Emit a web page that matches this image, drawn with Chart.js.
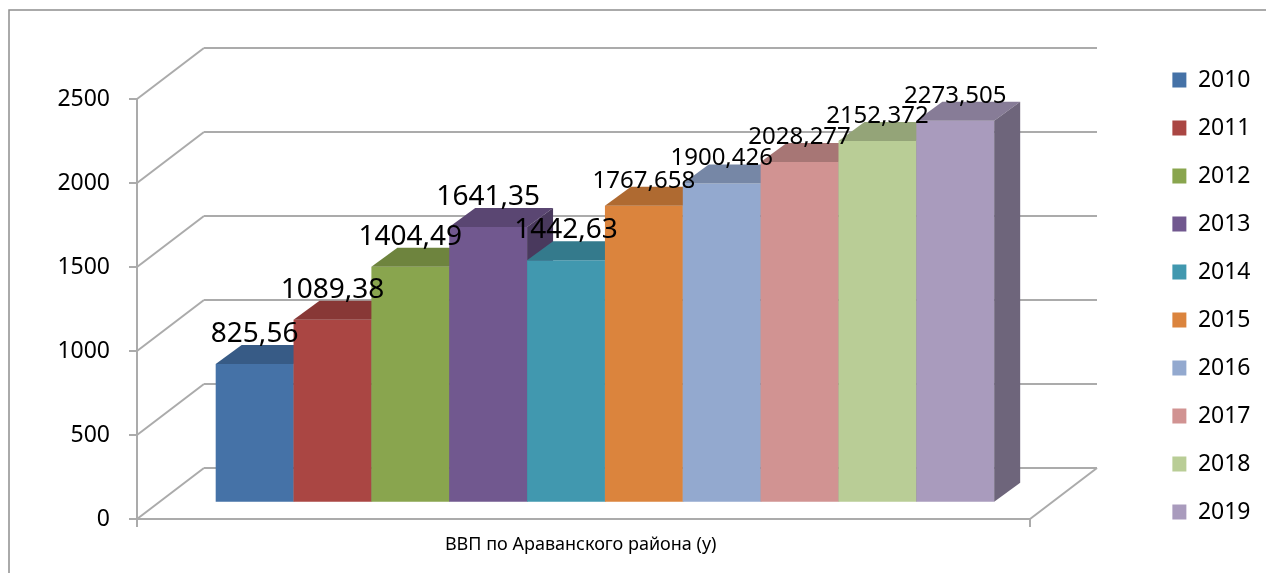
<!DOCTYPE html>
<html>
<head>
<meta charset="utf-8">
<script src="https://cdn.jsdelivr.net/npm/chart.js@4.4.1/dist/chart.umd.min.js"></script>
<style>
body { margin: 0; background: #fff; }
#wrap { width: 1266px; height: 573px; }
</style>
</head>
<body>
<div id="wrap"><canvas id="myChart"></canvas></div>
<script>
const years = ['2010', '2011', '2012', '2013', '2014', '2015', '2016', '2017', '2018', '2019'];
const values = [825.56, 1089.38, 1404.49, 1641.35, 1442.63, 1767.658, 1900.426, 2028.277, 2152.372, 2273.505];
const category = ['ВВП по Араванского района (у)'];
const yTicks = [0, 500, 1000, 1500, 2000, 2500];
const colors = ['#4572a7', '#aa4643', '#89a54e', '#71588f', '#4198af', '#db843d', '#93a9cf', '#d19392', '#b9cd96', '#a99bbd'];

// 3d look
const DEPTH = {x: 67, y: -51};     // depth of the whole box (left wall / floor)
const BAR_FRONT = 0.32;            // bars stand this far into the box
const BAR_D = {x: 26, y: -19};     // depth of a bar
const BOX_W = 893;                 // width of the floor, from the y axis
const gridColor = '#ababab';
const font = "'Noto Sans', sans-serif";

function shade(hex, k) {
    let r = parseInt(hex.substr(1, 2), 16), g = parseInt(hex.substr(3, 2), 16), b = parseInt(hex.substr(5, 2), 16);
    return 'rgb(' + Math.round(r * k) + ',' + Math.round(g * k) + ',' + Math.round(b * k) + ')';
}

function line(ctx, x1, y1, x2, y2) {
    ctx.beginPath();
    ctx.moveTo(x1, y1);
    ctx.lineTo(x2, y2);
    ctx.stroke();
}

function barShift(chart) {
    const a = chart.chartArea;
    return {
        x: a.left + BOX_W / 2 + DEPTH.x * BAR_FRONT - (a.left + a.right) / 2,
        y: DEPTH.y * BAR_FRONT
    };
}

const box3d = {
    id: 'box3d',
    beforeDraw(chart) {
        const ctx = chart.ctx;
        ctx.save();
        ctx.fillStyle = '#fff';
        ctx.fillRect(0, 0, chart.width, chart.height);
        ctx.strokeStyle = '#8e8e8e';
        ctx.lineWidth = 1.5;
        ctx.strokeRect(9, 10, chart.width + 20, chart.height + 20);
        ctx.restore();
    },
    beforeDatasetsDraw(chart) {
        const ctx = chart.ctx;
        const ys = chart.scales.y;
        const a = chart.chartArea;
        const x0 = a.left, x1 = a.left + BOX_W;
        ctx.save();
        ctx.strokeStyle = gridColor;
        ctx.lineWidth = 2;
        yTicks.forEach(v => {
            const y = ys.getPixelForValue(v);
            line(ctx, x0, y, x0 + DEPTH.x, y + DEPTH.y);
            line(ctx, x0 + DEPTH.x, y + DEPTH.y, x1 + DEPTH.x, y + DEPTH.y);
        });
        const y0 = ys.getPixelForValue(0);
        line(ctx, x0, y0, x1, y0);
        line(ctx, x1, y0, x1 + DEPTH.x, y0 + DEPTH.y);
        line(ctx, x0, y0, x0, y0 + 8);
        line(ctx, x1, y0, x1, y0 + 8);
        ctx.restore();
    },
    beforeDatasetDraw() {
        // bars are drawn below, left to right, so the 3d faces overlap right
        return false;
    },
    afterDatasetsDraw(chart) {
        const ctx = chart.ctx;
        const s = barShift(chart);
        ctx.save();
        ctx.translate(s.x, s.y);
        for (let i = 0; i < years.length; i++) {
            const el = chart.getDatasetMeta(i).data[0];
            const l = el.x - el.width / 2, r = el.x + el.width / 2;
            const t = el.y, b = el.base;
            el.draw(ctx);
            // top
            ctx.fillStyle = shade(colors[i], 0.8);
            ctx.beginPath();
            ctx.moveTo(l, t); ctx.lineTo(r, t);
            ctx.lineTo(r + BAR_D.x, t + BAR_D.y); ctx.lineTo(l + BAR_D.x, t + BAR_D.y);
            ctx.closePath(); ctx.fill();
            // side
            ctx.fillStyle = shade(colors[i], 0.65);
            ctx.beginPath();
            ctx.moveTo(r, t); ctx.lineTo(r + BAR_D.x, t + BAR_D.y);
            ctx.lineTo(r + BAR_D.x, b + BAR_D.y); ctx.lineTo(r, b);
            ctx.closePath(); ctx.fill();
        }
        // value labels
        ctx.fillStyle = '#000';
        ctx.textAlign = 'center';
        ctx.textBaseline = 'alphabetic';
        for (let i = 0; i < years.length; i++) {
            const el = chart.getDatasetMeta(i).data[0];
            const big = i < 5;
            ctx.font = (big ? 28 : 24) + 'px ' + font;
            ctx.fillText(String(values[i]).replace('.', ','), el.x, el.y - (big ? 22 : 18));
        }
        ctx.restore();
    }
};

const ctx = document.getElementById('myChart').getContext('2d');
new Chart(ctx, {
    type: 'bar',
    data: {
        labels: category,
        datasets: years.map((y, i) => ({
            label: y,
            data: [values[i]],
            backgroundColor: colors[i],
            borderWidth: 0,
            categoryPercentage: 0.7705,
            barPercentage: 1
        }))
    },
    options: {
        responsive: true,
        maintainAspectRatio: false,
        animation: false,
        layout: { padding: { top: 19, right: 5.5, bottom: 0, left: 0 } },
        scales: {
            x: {
                afterFit: (sc) => { sc.height = 54; },
                grid: { display: false, drawTicks: false },
                border: { display: false },
                ticks: { color: '#000', font: { family: font, size: 18 }, padding: 15, labelOffset: -61.5 }
            },
            y: {
                min: 0,
                max: 2500,
                afterFit: (sc) => { sc.width = 137; },
                afterBuildTicks: (sc) => { sc.ticks = yTicks.map(v => ({value: v})); },
                grid: { drawOnChartArea: false, drawTicks: true, tickLength: 8, color: gridColor, lineWidth: 2 },
                border: { display: true, color: gridColor, width: 2 },
                ticks: { color: '#000', font: { family: font, size: 23 }, padding: 19, callback: (v) => String(v) }
            }
        },
        plugins: {
            title: { display: true, text: ' ', font: { size: 10 }, padding: { top: 68, bottom: 0 } },
            tooltip: { enabled: false },
            legend: {
                position: 'right',
                labels: {
                    boxWidth: 14,
                    boxHeight: 15,
                    padding: 25,
                    color: '#000',
                    font: { family: font, size: 23 }
                }
            }
        }
    },
    plugins: [box3d]
});
</script>
</body>
</html>
